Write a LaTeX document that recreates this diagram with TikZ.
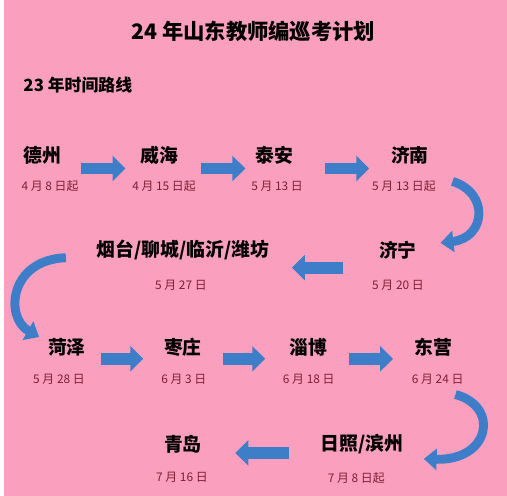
\documentclass[tikz,border=0pt]{standalone}
\usepackage{fontspec}
\setmainfont{Noto Sans CJK SC}
\usetikzlibrary{arrows.meta}

\definecolor{fond}{RGB}{250,160,190}
\definecolor{fleche}{RGB}{62,126,200}
\definecolor{jourcol}{RGB}{125,30,55}

\tikzset{
  ville/.style={inner sep=0pt, font=\fontsize{19}{22}\selectfont\bfseries},
  jour/.style={inner sep=0pt, text=jourcol, font=\fontsize{12}{14}\selectfont},
  bloc/.style={draw=fleche, line width=12pt, -{Triangle[width=25pt,length=13pt]}},
  courbe/.style={draw=fleche, line width=9pt, -{Triangle[width=21pt,length=13pt]}},
}

\begin{document}
\begin{tikzpicture}[x=1pt,y=-1pt]
  % fond
  \fill[fond] (0,0) rectangle (507,500);

  % titres
  \node[font=\fontsize{21.5}{25}\selectfont\bfseries] (titre) at (251,32) {24 年山东教师编巡考计划};
  \node[anchor=west, inner sep=0pt, font=\fontsize{17}{20}\selectfont\bfseries] (soustitre) at (19,86) {23 年时间路线};

  % ligne 1
  \node[ville] (dezhou) at (38,157) {德州};
  \node[ville] (weihai) at (156,157) {威海};
  \node[ville] (taian) at (272,157) {泰安};
  \node[ville] (jinan) at (409,157) {济南};
  \node[jour] (dezhou-d) at (46,188) {4 月 8 日起};
  \node[jour] (weihai-d) at (161,188) {4 月 15 日起};
  \node[jour] (taian-d) at (275,188) {5 月 13 日};
  \node[jour] (jinan-d) at (403,188) {5 月 13 日起};

  % ligne 2
  \node[ville] (jining) at (397,252) {济宁};
  \node[ville] (yantai) at (180,252) {烟台/聊城/临沂/潍坊};
  \node[jour] (jining-d) at (397,288) {5 月 20 日};
  \node[jour] (yantai-d) at (178,288) {5 月 27 日};

  % ligne 3
  \node[ville] (heze) at (63,350) {菏泽};
  \node[ville] (zaozhuang) at (180,350) {枣庄};
  \node[ville] (zibo) at (307,350) {淄博};
  \node[ville] (dongying) at (433,350) {东营};
  \node[jour] (heze-d) at (55,383) {5 月 28 日};
  \node[jour] (zaozhuang-d) at (181,383) {6 月 3 日};
  \node[jour] (zibo-d) at (307,383) {6 月 18 日};
  \node[jour] (dongying-d) at (437,383) {6 月 24 日};

  % ligne 4
  \node[ville] (rizhao) at (361,448) {日照/滨州};
  \node[ville] (qingdao) at (180,448) {青岛};
  \node[jour] (rizhao-d) at (355,482) {7 月 8 日起};
  \node[jour] (qingdao-d) at (179,482) {7 月 16 日};

  % fleches droites
  \draw[bloc] ([shift={(39,13)}]dezhou.center) -- ([shift={(-34,13)}]weihai.center);
  \draw[bloc] ([shift={(42,13)}]weihai.center) -- ([shift={(-29,13)}]taian.center);
  \draw[bloc] ([shift={(51,13)}]taian.center) -- ([shift={(-41,13)}]jinan.center);
  \draw[bloc] ([shift={(-55,18)}]jining.center) -- ([shift={(110,18)}]yantai.center);
  \draw[bloc] ([shift={(34,12)}]heze.center) -- ([shift={(-40,12)}]zaozhuang.center);
  \draw[bloc] ([shift={(40,12)}]zaozhuang.center) -- ([shift={(-44,12)}]zibo.center);
  \draw[bloc] ([shift={(41,12)}]zibo.center) -- ([shift={(-41,12)}]dongying.center);
  \draw[bloc] ([shift={(-74,9)}]rizhao.center) -- ([shift={(53,9)}]qingdao.center);

  % fleches courbes
  \draw[courbe] ([shift={(43,26)}]jinan.center) .. controls +(38,12) and +(45,-5) .. ([shift={(43,-7)}]jining.center);
  \draw[courbe] ([shift={(-118,8)}]yantai.center) .. controls +(-57,2) and +(-35,-20) .. ([shift={(-28,-10)}]heze.center);
  \draw[courbe] ([shift={(22,48)}]dongying.center) .. controls +(45,12) and +(67,2) .. ([shift={(62,15)}]rizhao.center);
\end{tikzpicture}
\end{document}
